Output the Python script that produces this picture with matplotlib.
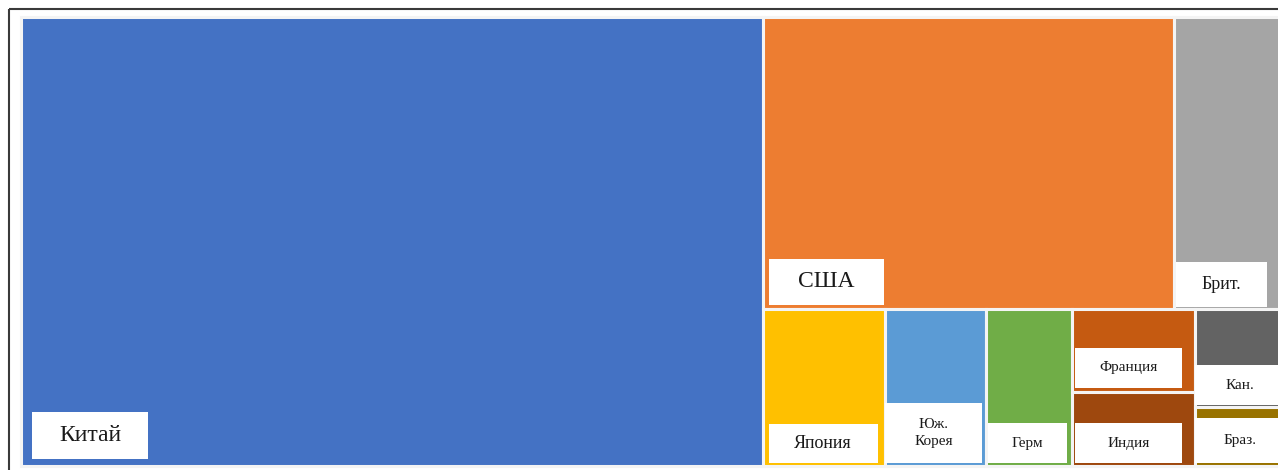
import matplotlib.pyplot as plt
from matplotlib.patches import Rectangle

# Доля стран (%), прочитано по площади плиток
countries = ['Китай', 'США', 'Брит.', 'Япония', 'Юж.\nКорея', 'Герм',
             'Франция', 'Индия', 'Кан.', 'Браз.']
values = [58.8, 21.2, 5.5, 3.4, 2.8, 2.4, 1.8, 1.6, 1.5, 0.9]
colors = ['#4472C4', '#ED7D31', '#A5A5A5', '#FFC000', '#5B9BD5', '#70AD47',
          '#C55A11', '#9E480E', '#636363', '#997300']

# группировка плиток как в Excel: h - слева направо, v - сверху вниз
tree = ('h', [0, ('v', [('h', [1, 2]),
                        ('h', [3, 4, 5, ('v', [6, 7]), ('v', [8, 9])])])])

# подписи: ширина, высота рамки (px), отступ слева, снизу, размер шрифта
label_style = {
    0: (116, 47, 11, 7, 17),
    1: (115, 46, 6, 4, 17),
    2: (91, 45, 2, 2, 13),
    3: (109, 39, 6, 3, 13),
    4: (97, 60, 0, 3, 11),
    5: (79, 40, 2, 3, 11),
    6: (107, 40, 3, 4, 11),
    7: (107, 40, 3, 3, 11),
    8: (90, 40, -1, 2, 11),
    9: (90, 45, -1, 3, 11),
}


def total(node):
    if isinstance(node, int):
        return values[node]
    return sum(total(n) for n in node[1])


def layout(node, x, y, w, h, out):
    if isinstance(node, int):
        out[node] = (x, y, w, h)
        return
    kind, kids = node
    s = total(node)
    pos = 0
    for k in kids:
        f = total(k) / s
        if kind == 'h':
            layout(k, x + pos, y, w * f, h, out)
            pos += w * f
        else:
            layout(k, x, y + pos, w, h * f, out)
            pos += h * f


fig = plt.figure(figsize=(12.78, 4.70), dpi=100)
ax = fig.add_axes([0, 0, 1, 1])
ax.set_xlim(0, 1278)
ax.set_ylim(470, 0)
ax.axis('off')

# рамка области диаграммы
ax.add_patch(Rectangle((8.5, 8.5), 1400, 600, fill=False,
                       edgecolor='#3a3a3a', linewidth=1.5))

tiles = {}
layout(tree, 21, 17, 1260, 449, tiles)

for i, (x, y, w, h) in tiles.items():
    ax.add_patch(Rectangle((x, y), w, h, facecolor=colors[i],
                           edgecolor='#f4f4f4', linewidth=2.2))
    bw, bh, dx, dy, fs = label_style[i]
    bx = x + max(dx, 0)
    by = y + h - dy - bh
    ax.add_patch(Rectangle((bx, by), bw, bh, facecolor='white',
                           edgecolor='none'))
    ax.text(bx + bw / 2, by + bh / 2, countries[i], ha='center', va='center',
            fontsize=fs, family='Liberation Serif', color='#1a1a1a',
            linespacing=1.3)

fig.savefig('out.png', dpi=100)
